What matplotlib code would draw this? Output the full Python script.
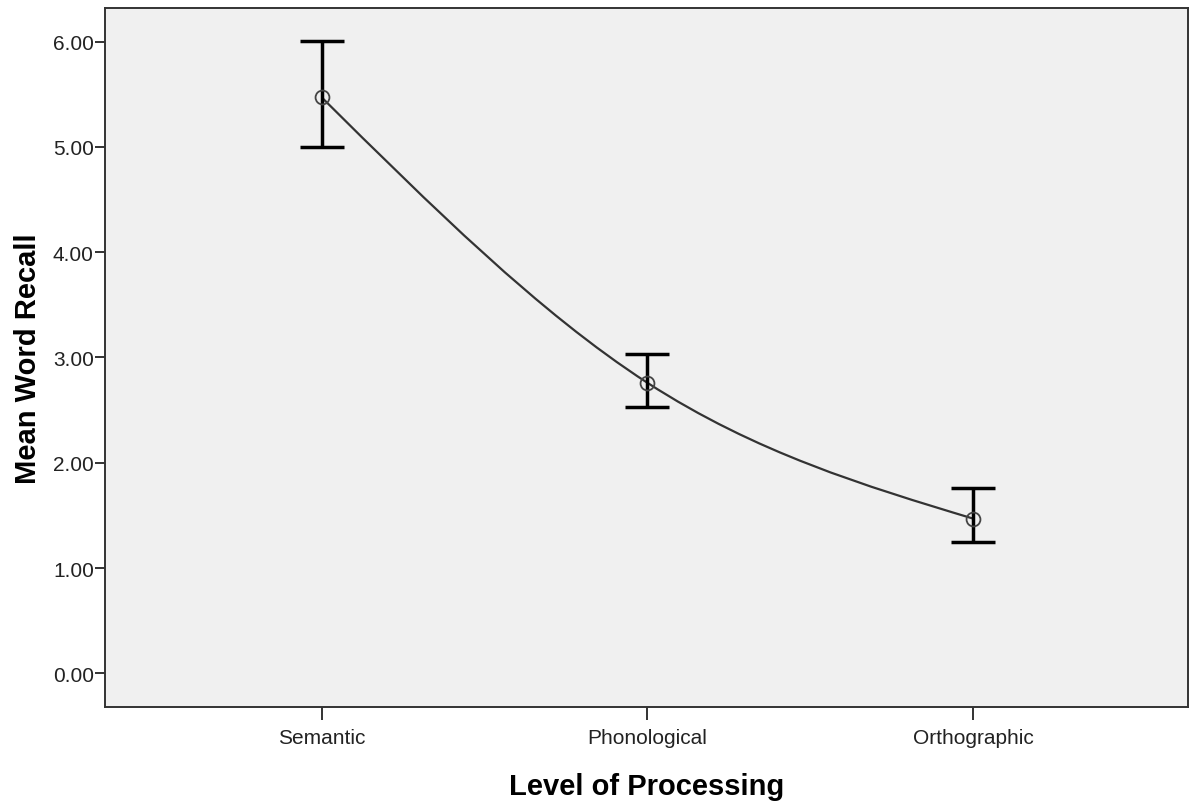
import numpy as np
import matplotlib.pyplot as plt
from matplotlib.path import Path
from matplotlib.patches import PathPatch

# values
levels = ['Semantic', 'Phonological', 'Orthographic']
mean_recall = [5.47, 2.76, 1.47]
ci_upper = [6.01, 3.03, 1.76]
ci_lower = [5.00, 2.53, 1.25]
y_ticks = [0, 1, 2, 3, 4, 5, 6]

plt.rcParams['font.family'] = ['Liberation Sans', 'DejaVu Sans']

fig = plt.figure(figsize=(11.9, 8.03), dpi=100)
ax = fig.add_axes([0.0882, 0.1183, 0.910, 0.8705])
ax.set_facecolor('#f0f0f0')

x = np.arange(len(levels))
y = np.array(mean_recall)

# natural cubic spline through the means, drawn as bezier segments
curv = 1.5 * (y[0] - 2 * y[1] + y[2])
s = np.diff(y)
slopes = [s[0] - curv / 6, s[0] + curv / 3, s[1] + curv / 6]
verts = [(x[0], y[0])]
codes = [Path.MOVETO]
for i in range(len(x) - 1):
    verts += [(x[i] + 1 / 3, y[i] + slopes[i] / 3),
              (x[i + 1] - 1 / 3, y[i + 1] - slopes[i + 1] / 3),
              (x[i + 1], y[i + 1])]
    codes += [Path.CURVE4] * 3
ax.add_patch(PathPatch(Path(verts, codes), fill=False, edgecolor='#333333', lw=1.6, zorder=2))

yerr = [y - np.array(ci_lower), np.array(ci_upper) - y]
ax.errorbar(x, y, yerr=yerr, fmt='none', ecolor='black', elinewidth=2.5,
            capsize=15.8, capthick=2.5, zorder=3)
ax.plot(x, y, 'o', mfc='none', mec='#444444', ms=10, mew=1.3, zorder=4)

ax.set_xlim(-0.666, 2.66)
ax.set_ylim(-0.32, 6.32)
ax.set_xticks(x)
ax.set_xticklabels(levels)
ax.set_yticks(y_ticks)
ax.set_yticklabels([f'{v:.2f}' for v in y_ticks])

for sp in ax.spines.values():
    sp.set_color('#333333')
    sp.set_linewidth(1.4)
ax.tick_params(axis='y', length=7, width=1.4, color='#333333', labelsize=15, pad=1, labelcolor='#222222')
ax.tick_params(axis='x', length=9, width=1.4, color='#333333', labelsize=15, pad=6, labelcolor='#222222')

ax.set_xlabel('Level of Processing', fontsize=21, fontweight='bold', labelpad=18)
ax.set_ylabel('Mean Word Recall', fontsize=21, fontweight='bold', labelpad=8)

fig.savefig('out.png', dpi=100)
